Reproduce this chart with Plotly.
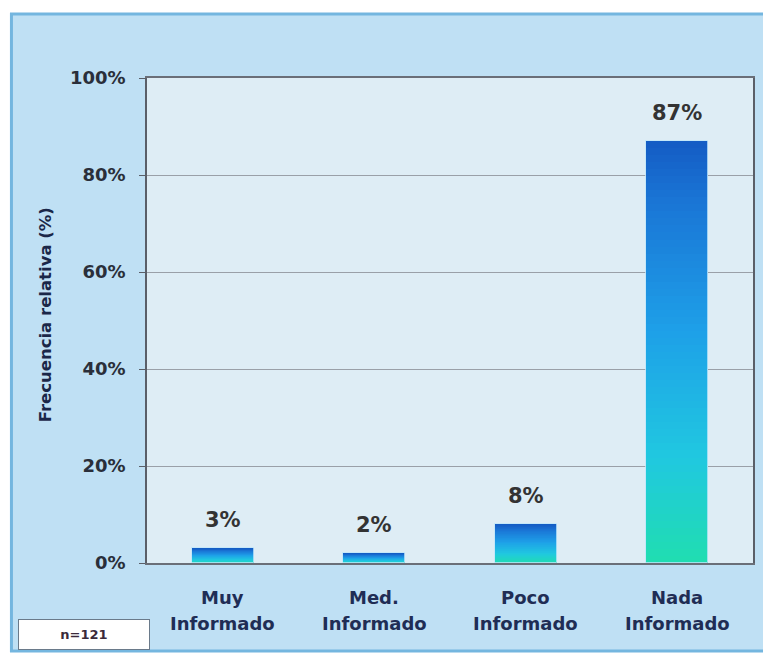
import plotly.graph_objects as go

# Data
categories = ["Muy Informado", "Med. Informado", "Poco Informado", "Nada Informado"]
label_line1 = ["Muy", "Med.", "Poco", "Nada"]
label_line2 = ["Informado", "Informado", "Informado", "Informado"]
values = [3, 2, 8, 87]
y_ticks = [0, 20, 40, 60, 80, 100]
y_tick_labels = ["0%", "20%", "40%", "60%", "80%", "100%"]
sample_note = "n=121"

W, H = 763, 656
L, R, T, B = 147, 8, 78, 93
PW, PH = W - L - R, H - T - B

def px_x(p):
    return (p - L) / PW

def px_y(p):
    return (H - B - p) / PH

FONT = "DejaVu Sans"

# Vertical gradient stops (bottom -> top) for each bar
stops = [
    (0.00, (32, 222, 176)),
    (0.25, (32, 200, 224)),
    (0.55, (30, 160, 232)),
    (0.85, (26, 118, 214)),
    (1.00, (20, 92, 196)),
]

def grad(t):
    for (t0, c0), (t1, c1) in zip(stops[:-1], stops[1:]):
        if t <= t1:
            f = (t - t0) / (t1 - t0) if t1 > t0 else 0
            return "rgb(%d,%d,%d)" % tuple(round(a + (b - a) * f) for a, b in zip(c0, c1))
    return "rgb(%d,%d,%d)" % stops[-1][1]

fig = go.Figure()

N = 60
for k in range(N):
    fig.add_trace(go.Bar(
        x=categories,
        y=[v / N for v in values],
        base=[v * k / N for v in values],
        marker=dict(color=grad((k + 0.5) / N), line=dict(width=0)),
        width=0.41,
        hoverinfo="skip",
        showlegend=False,
    ))

# Thin light outline around each bar
fig.add_trace(go.Bar(
    x=categories,
    y=values,
    width=0.41,
    marker=dict(color="rgba(0,0,0,0)", line=dict(color="rgba(190,230,250,0.8)", width=1)),
    hoverinfo="skip",
    showlegend=False,
))

# Outer framed panel
fig.add_shape(type="rect", xref="paper", yref="paper",
              x0=px_x(11), x1=px_x(772), y0=px_y(651), y1=px_y(14),
              fillcolor="#bfe0f4", line=dict(color="#74b6df", width=3), layer="below")
# Plot area background
fig.add_shape(type="rect", xref="paper", yref="paper",
              x0=0, x1=1, y0=0, y1=1,
              fillcolor="#deedf5", line=dict(width=0), layer="below")

# Value labels above bars
for c, v in zip(categories, values):
    fig.add_annotation(x=c, y=v, xref="x", yref="y", text=f"<b>{v}%</b>",
                       showarrow=False, yanchor="middle", yshift=28,
                       font=dict(family=FONT, size=21, color="#333333"))

# Two-line category labels
for c, a, b in zip(categories, label_line1, label_line2):
    fig.add_annotation(x=c, xref="x", yref="paper", y=px_y(597), text=f"<b>{a}</b>",
                       showarrow=False, yanchor="middle",
                       font=dict(family=FONT, size=18, color="#1f2d55"))
    fig.add_annotation(x=c, xref="x", yref="paper", y=px_y(623), text=f"<b>{b}</b>",
                       showarrow=False, yanchor="middle",
                       font=dict(family=FONT, size=18, color="#1f2d55"))

fig.add_annotation(xref="paper", yref="paper", x=px_x(45), y=px_y(315),
                   text="<b>Frecuencia relativa (%)</b>", textangle=-90, showarrow=False,
                   xanchor="center", yanchor="middle",
                   font=dict(family=FONT, size=16.5, color="#1a2748"))

fig.add_annotation(xref="paper", yref="paper", x=px_x(84), y=px_y(634),
                   text=f"<b>{sample_note}</b>", showarrow=False,
                   xanchor="center", yanchor="middle",
                   width=128, height=27, bgcolor="#ffffff",
                   bordercolor="#6a7a8a", borderwidth=1,
                   font=dict(family=FONT, size=13, color="#3a2a3a"))

fig.update_layout(
    width=W, height=H,
    margin=dict(l=L, r=R, t=T, b=B),
    paper_bgcolor="#ffffff",
    plot_bgcolor="#deedf5",
    barmode="overlay",
    bargap=0,
    showlegend=False,
    xaxis=dict(showticklabels=False, showgrid=False, ticks="",
               showline=True, linecolor="#6a6f78", linewidth=1.5, mirror=True,
               range=[-0.5, 3.5]),
    yaxis=dict(range=[0, 100], tickvals=y_ticks, ticktext=[f"<b>{t}</b>" for t in y_tick_labels],
               tickfont=dict(family=FONT, size=18, color="#2a2f3a"),
               ticks="outside", ticklen=6, tickcolor="#5a5f68",
               ticklabelstandoff=10,
               showgrid=True, gridcolor="#9aa0a8", gridwidth=1,
               showline=True, linecolor="#5a5f68", linewidth=1.5, mirror=True,
               zeroline=False),
)

fig.write_html("out.html")
